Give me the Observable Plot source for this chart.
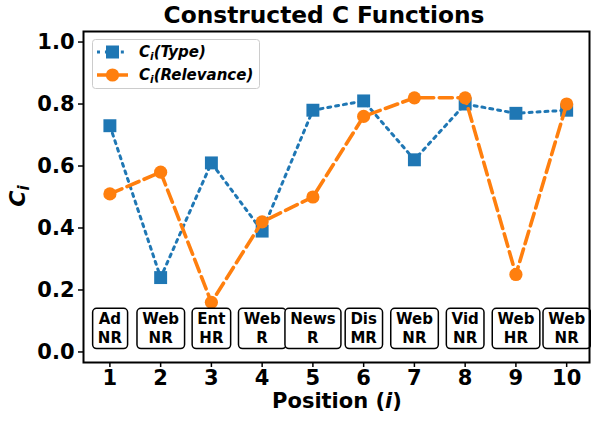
<!DOCTYPE html>
<html><head><meta charset="utf-8">
<script src="https://cdn.jsdelivr.net/npm/d3@7"></script>
<script src="https://cdn.jsdelivr.net/npm/@observablehq/plot@0.6"></script>
<style>body{margin:0;background:#fff} svg{font-family:"DejaVu Sans";}</style>
</head><body><div id="chart"></div>
<script>
const positions = [1,2,3,4,5,6,7,8,9,10];
const typeValues = [0.73,0.24,0.61,0.39,0.78,0.81,0.62,0.80,0.77,0.78];
const relevanceValues = [0.51,0.58,0.16,0.42,0.50,0.76,0.82,0.82,0.25,0.80];
const boxLabels = ["Ad\nNR","Web\nNR","Ent\nHR","Web\nR","News\nR","Dis\nMR","Web\nNR","Vid\nNR","Web\nHR","Web\nNR"];
const boxLevel = 0.08;
const yTicks = [0,0.2,0.4,0.6,0.8,1.0];
const title = "Constructed C Functions";

const typeData = positions.map((p,i)=>({x:p,y:typeValues[i]}));
const relData = positions.map((p,i)=>({x:p,y:relevanceValues[i]}));
const boxData = positions.map((p,i)=>({x:p,y:boxLevel,label:boxLabels[i]}));

const blue="#1f77b4", orange="#ff7f0e";

const plot = Plot.plot({
  width:591, height:423, marginLeft:83, marginRight:2, marginTop:31, marginBottom:61,
  style:{fontFamily:"DejaVu Sans", fontWeight:"bold", color:"#000", background:"#fff", overflow:"visible"},
  x:{domain:[0.48,10.45]},
  y:{domain:[-0.034,1.034]},
  marks:[
    Plot.axisX({ticks:positions, tickFormat:d=>String(d), tickSize:5, tickPadding:3, fontSize:21, strokeWidth:1.5, label:null, fontWeight:"bold"}),
    Plot.axisY({ticks:yTicks, tickFormat:d=>d.toFixed(1), tickSize:5, tickPadding:4, fontSize:21, strokeWidth:1.5, label:null, fontWeight:"bold"}),
    Plot.line(typeData,{x:"x",y:"y",stroke:blue,strokeWidth:3,strokeDasharray:"3,4.95"}),
    Plot.dot(typeData,{x:"x",y:"y",symbol:"square",r:7.3,fill:blue,stroke:null}),
    Plot.line(relData,{x:"x",y:"y",stroke:orange,strokeWidth:3.6,strokeDasharray:"13,5.6"}),
    Plot.dot(relData,{x:"x",y:"y",r:6.6,fill:orange,stroke:null}),
    Plot.text(boxData,{x:"x",y:"y",text:"label",fontSize:15,fontWeight:"bold",lineHeight:1.3,fill:"#000"}),
    Plot.frame({stroke:"#000", strokeWidth:2})
  ]
});
document.getElementById("chart").appendChild(plot);

// boxes behind box labels
const svg = d3.select(plot);
svg.selectAll('g[aria-label="text"] text').each(function(){
  const b = this.getBBox();
  const padX=5.2, padY=1.4;
  const r = document.createElementNS("http://www.w3.org/2000/svg","rect");
  r.setAttribute("x", b.x-padX); r.setAttribute("y", b.y-padY);
  r.setAttribute("width", b.width+2*padX); r.setAttribute("height", b.height+2*padY);
  r.setAttribute("rx", 4); r.setAttribute("fill","#fff"); r.setAttribute("stroke","#000"); r.setAttribute("stroke-width",1.5);
  const t = this.getAttribute("transform"); if (t) r.setAttribute("transform", t);
  this.parentNode.insertBefore(r, this);
});

// title
svg.append("text").attr("x",324).attr("y",23).attr("text-anchor","middle")
  .attr("font-size",23.3).attr("font-weight","bold").attr("fill","#000").text(title);

// x label
const xl = svg.append("text").attr("x",337).attr("y",408).attr("text-anchor","middle")
  .attr("font-size",21).attr("font-weight","bold").attr("fill","#000");
xl.append("tspan").text("Position (");
xl.append("tspan").attr("font-style","italic").text("i");
xl.append("tspan").text(")");

// y label
const yl = svg.append("text").attr("transform","translate(25,196) rotate(-90)").attr("text-anchor","middle")
  .attr("font-size",22).attr("font-weight","bold").attr("font-style","italic").attr("fill","#000");
yl.append("tspan").text("C");
yl.append("tspan").attr("font-size",15).attr("dy",4).text("i");

// legend
const lg = svg.append("g");
lg.append("rect").attr("x",92.5).attr("y",39.5).attr("width",167).attr("height",49).attr("rx",3)
  .attr("fill","#fff").attr("fill-opacity",0.8).attr("stroke","#ccc").attr("stroke-width",1);
const entries = [
  {label:"(Type)", color:blue, dash:"3,4.95", w:3, sym:"square", y:52},
  {label:"(Relevance)", color:orange, dash:"13,5.6", w:3.6, sym:"circle", y:75}
];
for (const e of entries) {
  lg.append("line").attr("x1",97).attr("x2",128).attr("y1",e.y).attr("y2",e.y)
    .attr("stroke",e.color).attr("stroke-width",e.w).attr("stroke-dasharray",e.dash);
  if (e.sym==="square") lg.append("rect").attr("x",112.5-6.5).attr("y",e.y-6.5).attr("width",13).attr("height",13).attr("fill",e.color);
  else lg.append("circle").attr("cx",112.5).attr("cy",e.y).attr("r",6.6).attr("fill",e.color);
  const t = lg.append("text").attr("x",139).attr("y",e.y+5).attr("text-anchor","start").attr("font-size",15).attr("font-weight","bold").attr("font-style","italic").attr("fill","#000");
  t.append("tspan").text("C");
  t.append("tspan").attr("font-size",10.5).attr("dy",3).text("i");
  t.append("tspan").attr("dy",-3).text(e.label);
}
</script></body></html>
